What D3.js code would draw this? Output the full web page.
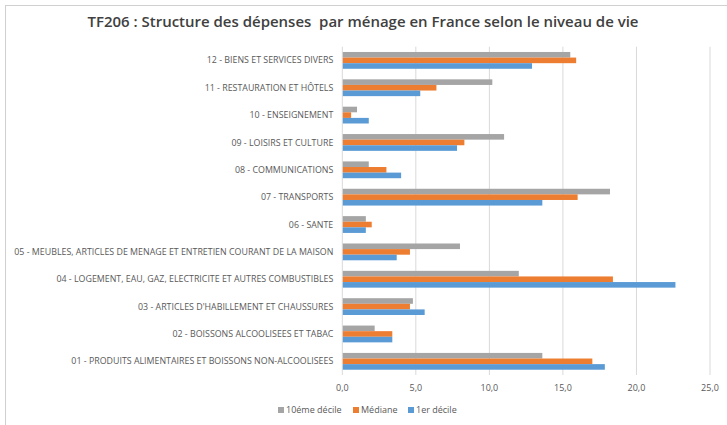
<!DOCTYPE html>
<html>
<head>
<meta charset="utf-8">
<script src="https://cdn.jsdelivr.net/npm/d3@7"></script>
<style>
  html, body { margin: 0; padding: 0; background: #fff; }
  svg text { font-family: "Open Sans", "Noto Sans", sans-serif; }
</style>
</head>
<body>
<svg id="chart" width="727" height="425"></svg>
<script>
// categories, top to bottom as drawn
var categories = [
  "12 - BIENS ET SERVICES DIVERS",
  "11 - RESTAURATION ET HÔTELS",
  "10 - ENSEIGNEMENT",
  "09 - LOISIRS ET CULTURE",
  "08 - COMMUNICATIONS",
  "07 - TRANSPORTS",
  "06 - SANTE",
  "05 - MEUBLES, ARTICLES DE MENAGE ET ENTRETIEN COURANT DE LA MAISON",
  "04 - LOGEMENT, EAU, GAZ, ELECTRICITE ET AUTRES COMBUSTIBLES",
  "03 - ARTICLES D'HABILLEMENT ET CHAUSSURES",
  "02 - BOISSONS ALCOOLISEES ET TABAC",
  "01 - PRODUITS ALIMENTAIRES ET BOISSONS NON-ALCOOLISEES"
];

var decile10 = [15.5, 10.2, 1.0, 11.0, 1.8, 18.2, 1.6, 8.0, 12.0, 4.8, 2.2, 13.6];
var mediane  = [15.9, 6.4, 0.6, 8.3, 3.0, 16.0, 2.0, 4.6, 18.4, 4.6, 3.4, 17.0];
var decile1  = [12.9, 5.3, 1.8, 7.8, 4.0, 13.6, 1.6, 3.7, 22.65, 5.6, 3.4, 17.85];

var seriesNames = ["10éme décile", "Médiane", "1er décile"];
var seriesColors = ["#a5a5a5", "#ed7d31", "#5b9bd5"];
var xTicks = [0, 5, 10, 15, 20, 25];

var title = "TF206 : Structure des dépenses\u00a0 par ménage en France selon le niveau de vie";

var svg = d3.select("#chart");
var margin = { top: 46.7, left: 342.3, right: 17, bottom: 50 };
var width = 710 - margin.left;
var height = 375 - margin.top;

// chart frame
svg.append("rect")
  .attr("x", 5.5).attr("y", 5.5)
  .attr("width", 740).attr("height", 440)
  .attr("fill", "#fff")
  .attr("stroke", "#d0d0d0");

svg.append("text")
  .attr("x", 363).attr("y", 27)
  .attr("text-anchor", "middle")
  .attr("font-size", "14.5px")
  .attr("font-weight", "600")
  .attr("fill", "#404040")
  .attr("textLength", 551)
  .attr("lengthAdjust", "spacingAndGlyphs")
  .text(title);

var x = d3.scaleLinear().domain([0, 25]).range([0, width]);
var y = d3.scaleBand().domain(categories).range([0, height]);
var inner = d3.scaleBand().domain(seriesNames).range([0, 16.8]);

var g = svg.append("g")
  .attr("transform", "translate(" + margin.left + "," + margin.top + ")");

// gridlines
g.selectAll(".grid")
  .data(xTicks.slice(1))
  .enter().append("line")
  .attr("x1", function (d) { return x(d); })
  .attr("x2", function (d) { return x(d); })
  .attr("y1", 0).attr("y2", height)
  .attr("stroke", "#d9d9d9");

// bars
var series = [decile10, mediane, decile1];
series.forEach(function (vals, si) {
  g.selectAll(".bar" + si)
    .data(vals)
    .enter().append("rect")
    .attr("x", 0)
    .attr("y", function (d, i) {
      return y(categories[i]) + y.bandwidth() / 2 - 8.4 + inner(seriesNames[si]);
    })
    .attr("width", function (d) { return x(d); })
    .attr("height", inner.bandwidth())
    .attr("fill", seriesColors[si]);
});

// vertical axis line
g.append("line")
  .attr("x1", 0).attr("x2", 0)
  .attr("y1", 0).attr("y2", height)
  .attr("stroke", "#d9d9d9");

// category labels
g.selectAll(".cat")
  .data(categories)
  .enter().append("text")
  .attr("x", -9)
  .attr("y", function (d) { return y(d) + y.bandwidth() / 2; })
  .attr("dy", "0.35em")
  .attr("text-anchor", "end")
  .attr("font-size", "8.85px")
  .attr("fill", "#595959")
  .text(function (d) { return d; });

// x tick labels
var fmt = function (d) { return d3.format(".1f")(d).replace(".", ","); };
g.selectAll(".tick")
  .data(xTicks)
  .enter().append("text")
  .attr("x", function (d) { return x(d); })
  .attr("y", height + 16)
  .attr("text-anchor", "middle")
  .attr("font-size", "9px")
  .attr("fill", "#595959")
  .text(fmt);

// legend
var legendX = [278, 353, 408];
var legend = svg.selectAll(".leg")
  .data(seriesNames)
  .enter().append("g")
  .attr("transform", function (d, i) { return "translate(" + legendX[i] + ",410)"; });
legend.append("rect")
  .attr("x", 0).attr("y", -3)
  .attr("width", 6).attr("height", 6)
  .attr("fill", function (d, i) { return seriesColors[i]; });
legend.append("text")
  .attr("x", 8).attr("y", 0)
  .attr("dy", "0.35em")
  .attr("font-size", "9px")
  .attr("fill", "#595959")
  .text(function (d) { return d; });
</script>
</body>
</html>
